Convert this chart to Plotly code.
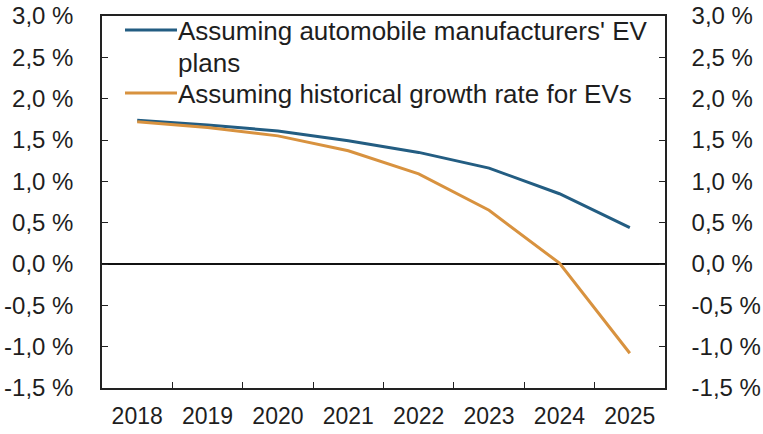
import plotly.graph_objects as go

years = ["2018", "2019", "2020", "2021", "2022", "2023", "2024", "2025"]
ev_plans = [1.74, 1.68, 1.61, 1.49, 1.35, 1.16, 0.85, 0.44]
hist_growth = [1.72, 1.65, 1.55, 1.37, 1.09, 0.65, 0.01, -1.08]
name_plans = "Assuming automobile manufacturers' EV plans"
name_hist = "Assuming historical growth rate for EVs"
ytick_vals = [3.0, 2.5, 2.0, 1.5, 1.0, 0.5, 0.0, -0.5, -1.0, -1.5]
ytick_text = ["3,0 %", "2,5 %", "2,0 %", "1,5 %", "1,0 %", "0,5 %", "0,0 %", "-0,5 %", "-1,0 %", "-1,5 %"]

BLUE = "#235d82"
ORANGE = "#d8923f"
FONT = "Liberation Sans, Arial, sans-serif"
TXT = "#1e1e1e"

fig = go.Figure()
fig.add_trace(go.Scatter(x=years, y=ev_plans, mode="lines", name=name_plans,
                         line=dict(color=BLUE, width=3), showlegend=False))
fig.add_trace(go.Scatter(x=years, y=hist_growth, mode="lines", name=name_hist,
                         line=dict(color=ORANGE, width=3), showlegend=False, yaxis="y2"))

W, H = 763, 434
L, R, T, B = 102, 98, 16, 46
pw, ph = W - L - R, H - T - B

def px(x):
    return (x - L) / pw

def py(y):
    return (H - B - y) / ph

# manual legend
for yy, col in [(30, BLUE), (93, ORANGE)]:
    fig.add_shape(type="line", xref="paper", yref="paper", x0=px(125), x1=px(177),
                  y0=py(yy), y1=py(yy), line=dict(color=col, width=3))
for yy, txt in [(31, "Assuming automobile manufacturers' EV"), (63, "plans"),
                (94, "Assuming historical growth rate for EVs")]:
    fig.add_annotation(xref="paper", yref="paper", x=px(176), y=py(yy), text=txt,
                       showarrow=False, xanchor="left", yanchor="middle",
                       font=dict(family=FONT, size=26, color=TXT))

axis_common = dict(range=[-1.5, 3.0], tickvals=ytick_vals, ticktext=ytick_text,
                   ticks="inside", ticklen=6, tickcolor="#222", tickwidth=1,
                   showgrid=False, showline=True, linecolor="#222", linewidth=1.5,
                   tickfont=dict(family=FONT, size=24, color=TXT), fixedrange=True,
                   automargin=False)

fig.update_layout(
    width=W, height=H,
    margin=dict(l=L, r=R, t=T, b=B),
    paper_bgcolor="white", plot_bgcolor="white",
    showlegend=False,
    xaxis=dict(type="category", range=[-0.5, 7.5], tickson="boundaries",
               ticks="inside", ticklen=6, tickcolor="#222", showgrid=False,
               showline=True, linecolor="#222", linewidth=1.5, mirror=True,
               tickfont=dict(family=FONT, size=23, color=TXT), ticklabelstandoff=7,
               automargin=False, fixedrange=True),
    yaxis=dict(**axis_common, side="left", zeroline=True, zerolinecolor="#111",
               zerolinewidth=1.5, ticklabelstandoff=22),
    yaxis2=dict(**axis_common, side="right", overlaying="y", zeroline=False,
                ticklabelstandoff=20),
)

fig.write_html("out.html", config={"displayModeBar": False},
               post_script="document.body.style.margin='0px';")
